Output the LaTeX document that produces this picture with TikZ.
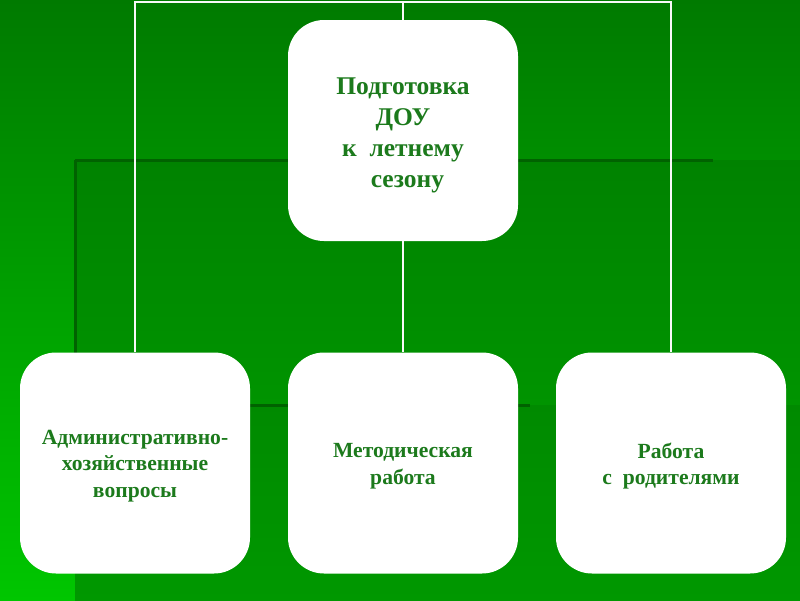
\documentclass[tikz,border=0pt]{standalone}
\usepackage{fontspec}
\setmainfont{Liberation Serif}
\begin{document}
\begin{tikzpicture}[x=1pt,y=1pt]
\definecolor{txtgreen}{RGB}{28,122,28}
\definecolor{bgtop}{RGB}{0,122,0}
\definecolor{bgbot}{RGB}{0,198,0}
\definecolor{ratop}{RGB}{0,130,0}
\definecolor{rabot}{RGB}{0,148,0}
\definecolor{rbtop}{RGB}{0,138,0}
\definecolor{rbbot}{RGB}{0,152,0}
\definecolor{darkedge}{RGB}{0,98,0}
\tikzset{
  box/.style={draw=none,fill=white,rounded corners=36pt,minimum width=230pt,
    minimum height=221pt,inner sep=0pt},
  boxtext/.style={align=center,text=txtgreen,inner sep=0pt},
  toptext/.style={boxtext,font=\bfseries\fontsize{25.5}{31}\selectfont},
  bottext/.style={boxtext,font=\bfseries\fontsize{21.6}{26.5}\selectfont},
  conn/.style={draw=white!95!gray,line width=2pt},
  edge/.style={draw=darkedge,line width=3pt}
}
\useasboundingbox (0,0) rectangle (800,-600);
% background
\shade[top color=bgtop,bottom color=bgbot] (0,0) rectangle (800,-600);
\shade[top color=ratop,bottom color=rabot] (75,-160) rectangle (800,-405);
\shade[top color=rbtop,bottom color=rbbot] (75,-405) rectangle (800,-600);
\draw[edge] (75,-160) -- (713,-160);
\draw[edge] (75,-160) -- (75,-405);
\draw[edge] (75,-405) -- (530,-405);
% nodes
\node[box,label={[toptext,yshift=-5pt]center:Подготовка\\ДОУ\\к~~летнему\\\hspace*{0.35em}сезону}] (top) at (403,-130.5) {};
\node[box,label={[bottext,yshift=-3pt]center:Административно-\\хозяйственные\\вопросы}] (adm) at (135,-463) {};
\node[box,label={[bottext,yshift=-3pt]center:Методическая\\работа}] (met) at (403,-463) {};
\node[box,label={[bottext,yshift=-3pt]center:Работа\\с~~родителями}] (rod) at (671,-463) {};
% connectors
\coordinate (bar) at (403,-1.5);
\draw[conn] (adm.north) -- (adm.north |- bar) -- (rod.north |- bar) -- (rod.north);
\draw[conn] (top.north) -- (top.north |- bar);
\draw[conn] (top.south) -- (met.north);
\end{tikzpicture}
\end{document}
